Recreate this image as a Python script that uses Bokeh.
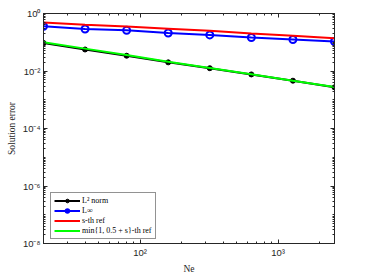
from bokeh.plotting import figure
from bokeh.models import LogAxis, FixedTicker, CustomJSTickFormatter, Legend
from bokeh.embed import file_html
from bokeh.resources import INLINE

ne = [20, 40, 80, 160, 320, 640, 1280, 2560]
l2_norm = [0.095, 0.056, 0.034, 0.020, 0.0125, 0.0076, 0.0046, 0.0027]
linf_norm = [0.36, 0.29, 0.26, 0.21, 0.18, 0.146, 0.125, 0.106]
s_ref = [0.49, 0.41, 0.35, 0.295, 0.25, 0.20, 0.167, 0.138]
min_ref = [0.100, 0.060, 0.036, 0.021, 0.0128, 0.0077, 0.0046, 0.0028]

y_major = [1e-8, 1e-6, 1e-4, 1e-2, 1e0]
y_minor = [k * 10.0 ** e for e in range(-8, 0) for k in range(1, 10)]
x_major = [100, 1000]
x_minor = [k * 10.0 ** e for e in range(1, 4) for k in range(1, 10)]

p = figure(x_axis_type="log", y_axis_type="log",
           x_range=(20, 2560), y_range=(1e-8, 1),
           frame_width=291, frame_height=230,
           min_border_left=43, min_border_right=23,
           min_border_top=13, min_border_bottom=31,
           output_backend="svg", toolbar_location=None,
           background_fill_color="white", border_fill_color="white")
p.grid.visible = False
p.outline_line_color = "#262626"

fmt = CustomJSTickFormatter(code="""
const sup = {'-':'\u207b','0':'\u2070','1':'\u00b9','2':'\u00b2','3':'\u00b3','4':'\u2074','5':'\u2075','6':'\u2076','7':'\u2077','8':'\u2078','9':'\u2079'};
const e = Math.round(Math.log10(tick));
return '10' + String(e).split('').map(c => sup[c]).join('');
""")

def style(ax, labels=True):
    ax.axis_line_color = "#262626"
    ax.major_tick_line_color = "#262626"
    ax.minor_tick_line_color = "#262626"
    ax.major_tick_in = 4
    ax.major_tick_out = 0
    ax.minor_tick_in = 2
    ax.minor_tick_out = 0
    if labels:
        ax.major_label_text_font = "Liberation Sans"
        ax.major_label_text_font_size = "9.5px"
        ax.major_label_text_color = "#262626"
        ax.major_label_standoff = 3
        ax.axis_label_text_font = "Liberation Serif"
        ax.axis_label_text_font_style = "normal"
        ax.axis_label_text_font_size = "9.5px"
        ax.axis_label_text_color = "#262626"
        ax.axis_label_standoff = 3
    else:
        ax.major_label_text_font_size = "1px"
        ax.major_label_text_alpha = 0
        ax.major_label_standoff = 0

xt = FixedTicker(ticks=x_major, minor_ticks=x_minor)
yt = FixedTicker(ticks=y_major, minor_ticks=y_minor)

p.xaxis.ticker = xt
p.yaxis.ticker = yt
p.xaxis.formatter = fmt
p.yaxis.formatter = fmt
p.xaxis.axis_label = "Ne"
p.yaxis.axis_label = "Solution error"
style(p.xaxis[0])
style(p.yaxis[0])

top = LogAxis(ticker=FixedTicker(ticks=x_major, minor_ticks=x_minor))
right = LogAxis(ticker=FixedTicker(ticks=y_major, minor_ticks=y_minor))
style(top, labels=False)
style(right, labels=False)
p.add_layout(top, "above")
p.add_layout(right, "right")

r1 = p.line(ne, l2_norm, line_color="black", line_width=2)
m1 = p.scatter(ne, l2_norm, marker="circle", size=5, fill_color="black", line_color="black")
r2 = p.line(ne, linf_norm, line_color="blue", line_width=2)
m2 = p.scatter(ne, linf_norm, marker="circle", size=7, fill_color=None, line_color="blue", line_width=2)
r3 = p.line(ne, s_ref, line_color="red", line_width=2)
r4 = p.line(ne, min_ref, line_color="lime", line_width=2)

legend = Legend(items=[
    ("L\u00b2 norm", [r1, m1]),
    ("L\u221e", [r2, m2]),
    ("s-th ref", [r3]),
    ("min{1, 0.5 + s}-th ref", [r4]),
], location=(7, 4))
legend.label_text_font = "Liberation Serif"
legend.label_text_font_size = "8px"
legend.label_text_color = "black"
legend.label_height = 9
legend.glyph_height = 9
legend.glyph_width = 26
legend.label_standoff = 2
legend.spacing = 1
legend.padding = 3
legend.margin = 0
legend.border_line_color = "#262626"
legend.border_line_width = 1
legend.background_fill_alpha = 1
p.add_layout(legend)

open("out.html", "w").write(file_html(p, INLINE))
